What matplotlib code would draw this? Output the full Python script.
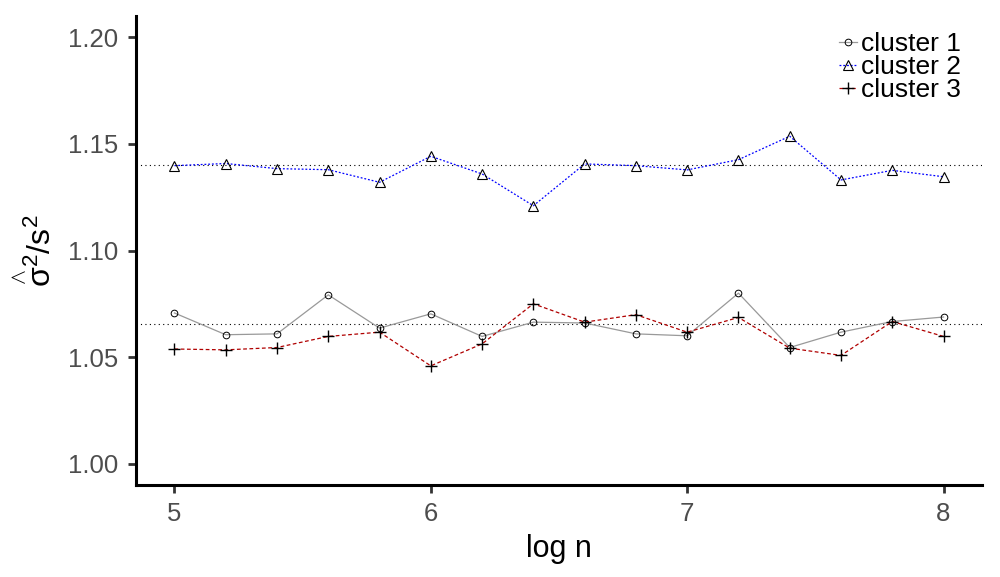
import numpy as np
import matplotlib
matplotlib.use("Agg")
import matplotlib.pyplot as plt

plt.rcParams['font.family'] = ['Liberation Sans', 'DejaVu Sans']
plt.rcParams['mathtext.fontset'] = 'custom'
plt.rcParams['mathtext.rm'] = 'Liberation Sans'
plt.rcParams['mathtext.it'] = 'Liberation Sans'
plt.rcParams['mathtext.sf'] = 'Liberation Sans'

# data
log_n = [5.0, 5.2, 5.4, 5.6, 5.8, 6.0, 6.2, 6.4, 6.6, 6.8, 7.0, 7.2, 7.4, 7.6, 7.8, 8.0]
cluster1 = [1.0707, 1.0605, 1.0609, 1.0792, 1.0636, 1.0703, 1.0597, 1.0664,
            1.0660, 1.0609, 1.0600, 1.0800, 1.0545, 1.0617, 1.0667, 1.0688]
cluster2 = [1.1398, 1.1408, 1.1384, 1.1379, 1.1320, 1.1442, 1.1359, 1.1210,
            1.1406, 1.1398, 1.1378, 1.1426, 1.1536, 1.1331, 1.1376, 1.1346]
cluster3 = [1.0538, 1.0534, 1.0545, 1.0597, 1.0617, 1.0459, 1.0562, 1.0750,
            1.0664, 1.0699, 1.0617, 1.0686, 1.0542, 1.0508, 1.0667, 1.0597]
ref_lines = [1.140, 1.0656]
labels = ['cluster 1', 'cluster 2', 'cluster 3']

fig = plt.figure(figsize=(10, 5.77), dpi=100)
ax = fig.add_axes([0.136, 0.1594, 0.846, 0.8129])

for r in ref_lines:
    ax.axhline(r, color='black', linestyle=(0, (1, 3)), linewidth=0.8, zorder=1)

ax.plot(log_n, cluster1, color='#999999', linestyle='-', linewidth=0.9,
        marker='o', markersize=4.8, markerfacecolor='none', markeredgecolor='black',
        markeredgewidth=0.7, label=labels[0], zorder=3)
ax.plot(log_n, cluster2, color='blue', linestyle=(0, (1.5, 1.5)), linewidth=0.9,
        marker='^', markersize=7, markerfacecolor='none', markeredgecolor='black',
        markeredgewidth=0.8, label=labels[1], zorder=3)
ax.plot(log_n, cluster3, color='#b00000', linestyle=(0, (3, 2)), linewidth=0.9,
        marker='+', markersize=8.5, markeredgecolor='black',
        markeredgewidth=1.0, label=labels[2], zorder=3)

ax.set_xlim(4.85, 8.15)
ax.set_ylim(0.99, 1.21)
ax.set_xticks([5, 6, 7, 8])
ax.set_yticks([1.00, 1.05, 1.10, 1.15, 1.20])
ax.set_yticklabels(['1.00', '1.05', '1.10', '1.15', '1.20'])

for s in ['top', 'right']:
    ax.spines[s].set_visible(False)
for s in ['left', 'bottom']:
    ax.spines[s].set_linewidth(2.2)
    ax.spines[s].set_color('black')

ax.tick_params(axis='both', length=6, width=2, color='#333333',
               labelsize=18.5, labelcolor='#4d4d4d')
ax.tick_params(axis='y', pad=7)
ax.tick_params(axis='x', pad=6)

ax.set_xlabel('log n', fontsize=22, labelpad=6)
ax.set_ylabel(r'$\overset{\wedge}{\sigma}^2/s^2$', fontsize=23, labelpad=7)

leg = ax.legend(loc='upper right', frameon=False, fontsize=19,
                handlelength=0.7, handletextpad=0.15, labelspacing=-0.05,
                borderaxespad=0.0, bbox_to_anchor=(0.972, 0.962),
                bbox_transform=fig.transFigure)

fig.savefig('out.png', dpi=100)
